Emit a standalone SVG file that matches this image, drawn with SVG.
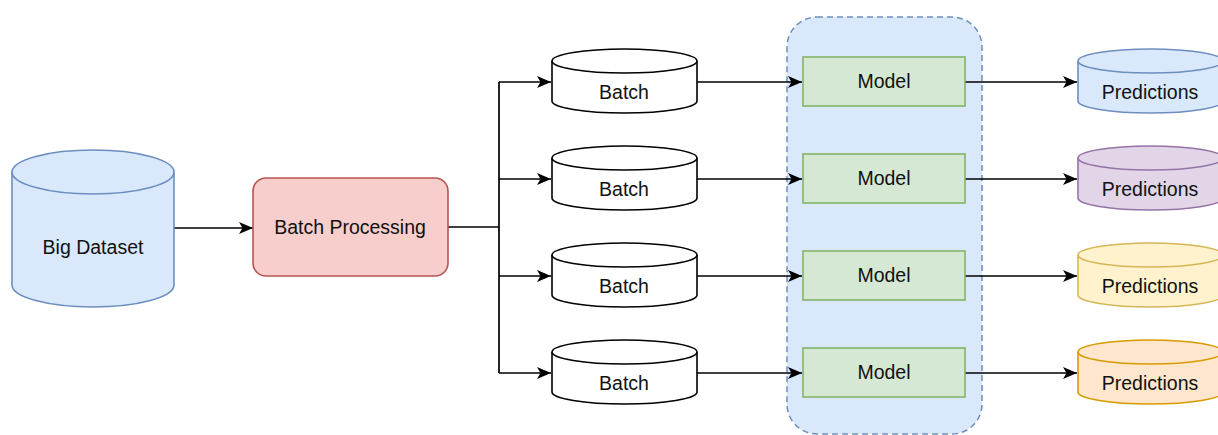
<svg xmlns="http://www.w3.org/2000/svg" width="1218" height="435" viewBox="0 0 1218 435">
<style>
text{font-family:"Liberation Sans",Arial,sans-serif;font-size:19.5px;fill:#111;text-anchor:middle}
.edge{fill:none;stroke:#000;stroke-width:1.7}
.cyl{stroke-width:1.6}
.white{fill:#fff;stroke:#000}
.blue{fill:#dae8fc;stroke:#6c8ebf}
.purple{fill:#e1d5e7;stroke:#9673a6}
.yellow{fill:#fff2cc;stroke:#d6b656}
.orange{fill:#ffe6cc;stroke:#d79b00}
.model{fill:#d5e8d4;stroke:#82b366;stroke-width:1.6}
</style>
<defs>
<marker id="arr" markerUnits="userSpaceOnUse" markerWidth="16" markerHeight="14" refX="14" refY="6" orient="auto">
<path d="M0,0 L14,6 L0,12 L3.5,6 Z" fill="#000"/>
</marker>
</defs>
<rect x="0" y="0" width="1218" height="435" fill="#fff"/>
<g id="group-models">
<rect x="787" y="17" width="195" height="417" rx="30" fill="#dae8fc" stroke="#6c8ebf" stroke-width="1.5" stroke-dasharray="6 4"/>
</g>
<g id="connectors">
<path class="edge" d="M174,228 H253" marker-end="url(#arr)"/>
<path class="edge" d="M448,227 H499 M499,82 V373"/>
<path class="edge" d="M499,82 H551" marker-end="url(#arr)"/>
<path class="edge" d="M499,179 H551" marker-end="url(#arr)"/>
<path class="edge" d="M499,276 H551" marker-end="url(#arr)"/>
<path class="edge" d="M499,373 H551" marker-end="url(#arr)"/>
<path class="edge" d="M697,82 H802" marker-end="url(#arr)"/>
<path class="edge" d="M697,179 H802" marker-end="url(#arr)"/>
<path class="edge" d="M697,276 H802" marker-end="url(#arr)"/>
<path class="edge" d="M697,373 H802" marker-end="url(#arr)"/>
<path class="edge" d="M965,82 H1077" marker-end="url(#arr)"/>
<path class="edge" d="M965,179 H1077" marker-end="url(#arr)"/>
<path class="edge" d="M965,276 H1077" marker-end="url(#arr)"/>
<path class="edge" d="M965,373 H1077" marker-end="url(#arr)"/>
</g>
<g id="big-dataset">
<path class="cyl blue" d="M12,172 A81,22 0 0 1 174,172 V285 A81,22 0 0 1 12,285 Z"/>
<path class="cyl blue" fill="none" d="M12,172 A81,22 0 0 0 174,172"/>
<text x="93" y="254">Big Dataset</text>
</g>
<g id="batch-processing">
<rect x="253" y="178" width="195" height="98" rx="13" fill="#f8cecc" stroke="#b85450" stroke-width="1.6"/>
<text x="350" y="234">Batch Processing</text>
</g>
<g id="batch-1">
<path class="cyl white" d="M552,61 A72.5,12 0 0 1 697,61 V101 A72.5,12 0 0 1 552,101 Z"/>
<path class="cyl white" fill="none" d="M552,61 A72.5,12 0 0 0 697,61"/>
<text x="624" y="99">Batch</text>
</g>
<g id="batch-2">
<path class="cyl white" d="M552,158 A72.5,12 0 0 1 697,158 V198 A72.5,12 0 0 1 552,198 Z"/>
<path class="cyl white" fill="none" d="M552,158 A72.5,12 0 0 0 697,158"/>
<text x="624" y="196">Batch</text>
</g>
<g id="batch-3">
<path class="cyl white" d="M552,255 A72.5,12 0 0 1 697,255 V295 A72.5,12 0 0 1 552,295 Z"/>
<path class="cyl white" fill="none" d="M552,255 A72.5,12 0 0 0 697,255"/>
<text x="624" y="293">Batch</text>
</g>
<g id="batch-4">
<path class="cyl white" d="M552,352 A72.5,12 0 0 1 697,352 V392 A72.5,12 0 0 1 552,392 Z"/>
<path class="cyl white" fill="none" d="M552,352 A72.5,12 0 0 0 697,352"/>
<text x="624" y="390">Batch</text>
</g>
<g id="model-1">
<rect class="model" x="803" y="57" width="162" height="49"/>
<text x="884" y="88">Model</text>
</g>
<g id="model-2">
<rect class="model" x="803" y="154" width="162" height="49"/>
<text x="884" y="185">Model</text>
</g>
<g id="model-3">
<rect class="model" x="803" y="251" width="162" height="49"/>
<text x="884" y="282">Model</text>
</g>
<g id="model-4">
<rect class="model" x="803" y="348" width="162" height="49"/>
<text x="884" y="379">Model</text>
</g>
<g id="predictions-1">
<path class="cyl blue" d="M1078,61 A72.5,12 0 0 1 1223,61 V101 A72.5,12 0 0 1 1078,101 Z"/>
<path class="cyl blue" fill="none" d="M1078,61 A72.5,12 0 0 0 1223,61"/>
<text x="1150" y="99">Predictions</text>
</g>
<g id="predictions-2">
<path class="cyl purple" d="M1078,158 A72.5,12 0 0 1 1223,158 V198 A72.5,12 0 0 1 1078,198 Z"/>
<path class="cyl purple" fill="none" d="M1078,158 A72.5,12 0 0 0 1223,158"/>
<text x="1150" y="196">Predictions</text>
</g>
<g id="predictions-3">
<path class="cyl yellow" d="M1078,255 A72.5,12 0 0 1 1223,255 V295 A72.5,12 0 0 1 1078,295 Z"/>
<path class="cyl yellow" fill="none" d="M1078,255 A72.5,12 0 0 0 1223,255"/>
<text x="1150" y="293">Predictions</text>
</g>
<g id="predictions-4">
<path class="cyl orange" d="M1078,352 A72.5,12 0 0 1 1223,352 V392 A72.5,12 0 0 1 1078,392 Z"/>
<path class="cyl orange" fill="none" d="M1078,352 A72.5,12 0 0 0 1223,352"/>
<text x="1150" y="390">Predictions</text>
</g>
</svg>
